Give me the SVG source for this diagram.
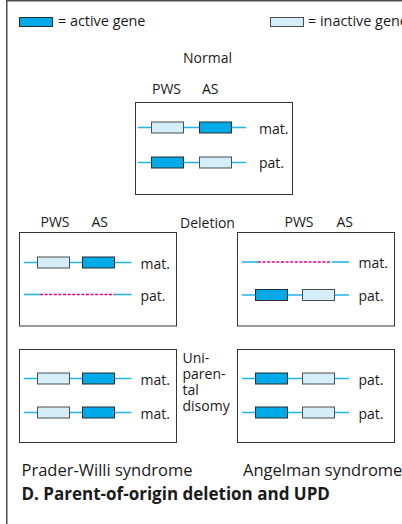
<svg xmlns="http://www.w3.org/2000/svg" width="402" height="524" viewBox="0 0 402 524">
<style>
text{font-family:"Open Sans","Noto Sans","Liberation Sans",sans-serif;fill:#1a1a1a}
.lbl{font-size:14px}
.leg{font-size:14.4px}
.big{font-size:16.5px}
.title{font-size:17px;font-weight:bold}
.frame{fill:none;stroke:#4d4d4d;stroke-width:1.5}
.box{fill:#fff;stroke:#333;stroke-width:1}
.chr{stroke:#1fb5ea;stroke-width:1.6;fill:none}
.del{stroke:#e5007d;stroke-width:1.6;stroke-dasharray:3 1.6;fill:none}
.act{fill:#00aae9;stroke:#2b2b2b;stroke-width:1}
.ina{fill:#d3eef9;stroke:#4d4d4d;stroke-width:1}
</style>
<rect width="402" height="524" fill="#fff"/>
<path class="frame" d="M6.75 524V0.75H402"/>
<g id="legend">
<rect class="act" x="19.5" y="17.5" width="33" height="9"/>
<text class="leg" x="58" y="26">= active gene</text>
<rect class="ina" x="270.5" y="17.5" width="33" height="9"/>
<text class="leg" x="308" y="26">= inactive gene</text>
</g>
<g id="normal">
<text class="lbl" x="183" y="63">Normal</text>
<text class="lbl" x="152" y="94">PWS</text>
<text class="lbl" x="202" y="94">AS</text>
<rect class="box" x="135.5" y="102.5" width="157" height="92"/>
<line class="chr" x1="138" y1="127.5" x2="246" y2="127.5"/>
<rect class="ina" x="151.5" y="122" width="32" height="11"/>
<rect class="act" x="199.5" y="122" width="32" height="11"/>
<text class="lbl" x="259" y="134">mat.</text>
<line class="chr" x1="138" y1="162.5" x2="246" y2="162.5"/>
<rect class="act" x="151.5" y="157" width="32" height="11"/>
<rect class="ina" x="199.5" y="157" width="32" height="11"/>
<text class="lbl" x="259" y="168">pat.</text>
</g>
<g id="deletion-label">
<text class="lbl" x="180" y="227.5">Deletion</text>
</g>
<g id="pws-deletion">
<text class="lbl" x="40.5" y="227">PWS</text>
<text class="lbl" x="91.5" y="227">AS</text>
<rect class="box" x="19.5" y="232.5" width="157" height="93.5"/>
<line class="chr" x1="24" y1="262.5" x2="131.5" y2="262.5"/>
<rect class="ina" x="37.5" y="257" width="32" height="11"/>
<rect class="act" x="82.5" y="257" width="32" height="11"/>
<text class="lbl" x="140.5" y="268.5">mat.</text>
<line class="chr" x1="24" y1="294.5" x2="40" y2="294.5"/>
<line class="del" x1="40" y1="294.5" x2="115" y2="294.5"/>
<line class="chr" x1="115" y1="294.5" x2="131.5" y2="294.5"/>
<text class="lbl" x="140.5" y="300.5">pat.</text>
</g>
<g id="as-deletion">
<text class="lbl" x="284.5" y="227">PWS</text>
<text class="lbl" x="336.5" y="227">AS</text>
<rect class="box" x="237.5" y="232.5" width="157" height="93.5"/>
<line class="chr" x1="242" y1="262" x2="258" y2="262"/>
<line class="del" x1="258" y1="262" x2="331.5" y2="262"/>
<line class="chr" x1="331.5" y1="262" x2="349" y2="262"/>
<text class="lbl" x="358.5" y="268">mat.</text>
<line class="chr" x1="242" y1="295" x2="349" y2="295"/>
<rect class="act" x="255.5" y="289.5" width="32" height="11"/>
<rect class="ina" x="302.5" y="289.5" width="32" height="11"/>
<text class="lbl" x="358.5" y="301">pat.</text>
</g>
<g id="upd-label">
<text class="lbl" x="182.5" y="362.5">Uni-<tspan x="182.5" dy="16">paren-</tspan><tspan x="182.5" dy="16">tal</tspan><tspan x="182.5" dy="16">disomy</tspan></text>
</g>
<g id="pws-upd">
<rect class="box" x="19.5" y="349.5" width="157" height="93"/>
<line class="chr" x1="24" y1="378.5" x2="131.5" y2="378.5"/>
<rect class="ina" x="37.5" y="373" width="32" height="11"/>
<rect class="act" x="82.5" y="373" width="32" height="11"/>
<text class="lbl" x="140.5" y="384.5">mat.</text>
<line class="chr" x1="24" y1="412.5" x2="131.5" y2="412.5"/>
<rect class="ina" x="37.5" y="407" width="32" height="11"/>
<rect class="act" x="82.5" y="407" width="32" height="11"/>
<text class="lbl" x="140.5" y="418.5">mat.</text>
</g>
<g id="as-upd">
<rect class="box" x="237.5" y="349.5" width="157" height="93"/>
<line class="chr" x1="242" y1="378.5" x2="349" y2="378.5"/>
<rect class="act" x="255.5" y="373" width="32" height="11"/>
<rect class="ina" x="302.5" y="373" width="32" height="11"/>
<text class="lbl" x="358.5" y="384.5">pat.</text>
<line class="chr" x1="242" y1="412.5" x2="349" y2="412.5"/>
<rect class="act" x="255.5" y="407" width="32" height="11"/>
<rect class="ina" x="302.5" y="407" width="32" height="11"/>
<text class="lbl" x="358.5" y="418.5">pat.</text>
</g>
<g id="captions">
<text class="big" x="21.5" y="476">Prader-Willi syndrome</text>
<text class="big" x="243" y="476">Angelman syndrome</text>
<text class="title" x="21.5" y="500">D. Parent-of-origin deletion and UPD</text>
</g>
</svg>
